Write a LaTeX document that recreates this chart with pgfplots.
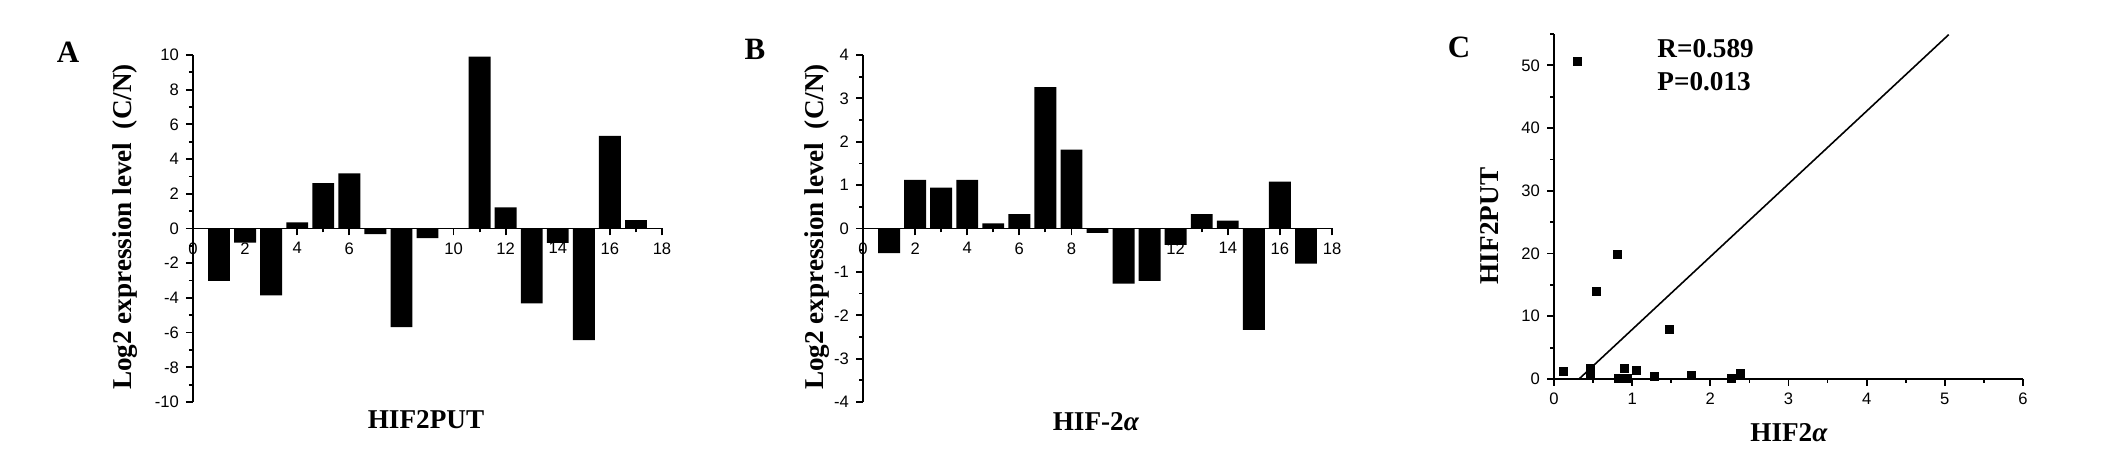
\documentclass[border=0pt]{standalone}
\usepackage{fontspec}
\setmainfont{Liberation Serif}
\newfontfamily\arial{Liberation Sans}
\usepackage{pgfplots}
\pgfplotsset{compat=1.18}
\begin{document}
\begin{tikzpicture}
\path[use as bounding box] (0,0) rectangle (1063pt,226.5pt);
\pgfplotsset{
  common/.style={
    scale only axis, width=234.5pt, anchor=south west,
    tick align=outside, major tick length=3.5pt, minor tick length=2pt,
    axis line style={line width=0.9pt, -},
    every tick/.style={line width=0.9pt, black},
    every minor tick/.style={line width=0.9pt, black},
    ticklabel style={font=\arial\fontsize{8.3}{10}\selectfont},
    /pgf/number format/assume math mode=true,
    hide obscured x ticks=false,
    hide obscured y ticks=false,
  },
  barax/.style={
    common, height=173.5pt,
    axis x line*=middle, axis y line*=left,
    xmin=0, xmax=18,
    xtick={0,2,...,18}, minor xtick={1,3,...,17},
    ybar, bar width=0.84,
  },
}
% Panel A
\begin{axis}[barax, at={(96.5pt,25.5pt)},
  ymin=-10, ymax=10, ytick={-10,-8,...,10}, minor ytick={-9,-7,...,9}]
\addplot[fill=black, draw=none] coordinates {
 (1,-3.02) (2,-0.81) (3,-3.85) (4,0.35) (5,2.61) (6,3.18) (7,-0.33) (8,-5.69)
 (9,-0.56) (10,0) (11,9.91) (12,1.22) (13,-4.32) (14,-0.83) (15,-6.43) (16,5.34) (17,0.48)};
\end{axis}
% Panel B
\begin{axis}[barax, at={(431.5pt,25.5pt)},
  ymin=-4, ymax=4, ytick={-4,-3,...,4}, minor ytick={-3.5,-2.5,...,3.5}]
\addplot[fill=black, draw=none] coordinates {
 (1,-0.57) (2,1.12) (3,0.94) (4,1.12) (5,0.12) (6,0.33) (7,3.26) (8,1.82)
 (9,-0.10) (10,-1.27) (11,-1.21) (12,-0.38) (13,0.33) (14,0.18) (15,-2.34) (16,1.08) (17,-0.81)};
\end{axis}
% Panel C
\begin{axis}[common, at={(777pt,37pt)}, height=172.5pt,
  axis x line*=bottom, axis y line*=left, clip=false,
  xmin=0, xmax=6, ymin=0, ymax=55,
  xtick={0,1,...,6}, minor xtick={0.5,1.5,...,5.5},
  ytick={0,10,...,50}, minor ytick={5,15,...,55}]
\addplot[black, line width=0.8pt, no marks] coordinates {(0.32,0) (5.05,54.9)};
\addplot[only marks, mark=square*, mark size=2pt, black] coordinates {
 (0.12,1.23) (0.30,50.7) (0.47,1.76) (0.47,0.6) (0.54,14.0) (0.81,19.8)
 (0.82,0.16) (0.90,1.76) (0.94,0.16) (1.06,1.44) (1.29,0.43) (1.48,7.88)
 (1.76,0.64) (2.27,0.11) (2.38,0.96)};
\end{axis}
% labels
\begin{scope}[every node/.style={font=\bfseries\fontsize{13.6}{15}\selectfont, inner sep=0pt}]
\node[rotate=90] at (62.5pt,113pt) {Log2 expression level\ \ (C/N)};
\node[rotate=90] at (408.5pt,113pt) {Log2 expression level\ \ (C/N)};
\node[rotate=90] at (745pt,113.5pt) {HIF2PUT};
\node at (213pt,16.5pt) {HIF2PUT};
\node at (548pt,15.5pt) {HIF-2\textit{α}};
\node at (894.5pt,10pt) {HIF2\textit{α}};
\node[anchor=west] at (828.5pt,202pt) {R=0.589};
\node[anchor=west] at (828.5pt,185.5pt) {P=0.013};
\end{scope}
\begin{scope}[every node/.style={font=\bfseries\fontsize{15.5}{17}\selectfont, inner sep=0pt}]
\node at (34pt,200.5pt) {A};
\node at (377.5pt,202pt) {B};
\node at (729.5pt,203pt) {C};
\end{scope}
\end{tikzpicture}
\end{document}
